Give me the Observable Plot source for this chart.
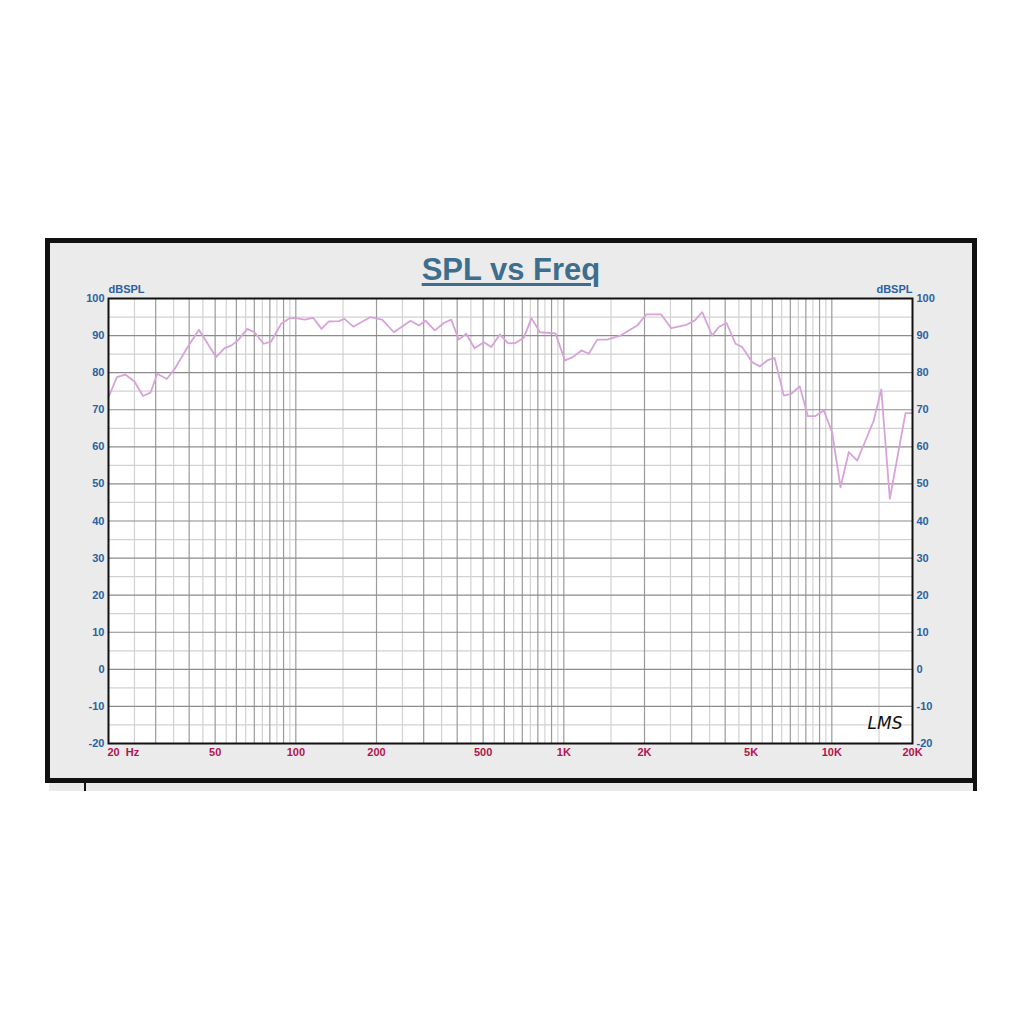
<!DOCTYPE html>
<html>
<head>
<meta charset="utf-8">
<script src="https://cdn.jsdelivr.net/npm/d3@7"></script>
<script src="https://cdn.jsdelivr.net/npm/@observablehq/plot@0.6"></script>
<style>
  html, body { margin: 0; padding: 0; background: #ffffff; }
  body { width: 1024px; height: 1024px; position: relative; overflow: hidden; font-family: "Liberation Sans", Arial, sans-serif; }
  #frame { position: absolute; left: 45px; top: 238px; width: 932px; height: 545px; box-sizing: border-box;
           border: 5px solid #111; background: #ebebeb; }
  #title { position: absolute; left: 0; right: 0; top: 9px; text-align: center; font-weight: bold; font-size: 31px;
           color: #3d6e8d; text-decoration: underline; text-decoration-thickness: 3px; text-underline-offset: 3px; }
  #chart { position: absolute; left: 0; top: 0; }
  #strip { position: absolute; left: 49px; top: 783px; width: 928px; height: 8px; background: #ebebeb;
           border-right: 4px solid #111; box-sizing: border-box; }
  #strip .tick { position: absolute; left: 35px; top: 0; width: 2px; height: 8px; background: #111; }
</style>
</head>
<body>
<div id="frame">
  <div id="title">SPL vs Freq</div>
  <div id="chart"></div>
</div>
<div id="strip"><div class="tick"></div></div>
<script>
// Measured response (frequency in Hz, level in dB SPL)
const freqs = [20, 21.5, 23.1, 25.0, 26.9, 28.7, 30.4, 33.0, 35.3, 39.5, 43.5, 50.4, 54.2, 57.4, 60.8, 65.9, 70.1, 75.9, 80.9, 88.2, 94.7, 100.3, 107.7,
  116.1, 124.7, 132.8, 144.7, 151.9, 163.8, 190.0, 210.0, 232.1, 268, 287.7, 304.7, 330.1, 356.5, 380.0, 405.6, 432.3, 464.3, 503, 536, 577,
  620, 660, 709, 757, 814, 931, 1009, 1080, 1164, 1240, 1332, 1451, 1627, 1879, 2029, 2309, 2516, 2869, 3082, 3284,
  3578, 3786, 4045, 4372, 4630, 5045, 5386, 5741, 6112, 6620, 7056, 7593, 8135, 8690, 9334, 10030, 10774, 11570, 12440, 13360, 14340, 15290, 16460, 18830, 20000];
const spl = [73.4, 78.8, 79.5, 77.6, 73.7, 74.6, 79.7, 78.3, 81.0, 86.9, 91.6, 84.2, 86.6, 87.3, 88.7, 91.8, 90.9, 87.8, 88.4, 93.2, 94.7, 94.7, 94.3,
  94.8, 91.8, 93.8, 93.9, 94.5, 92.4, 95.0, 94.3, 90.9, 94.0, 92.7, 94.0, 91.4, 93.4, 94.3, 88.9, 90.5, 86.6, 88.2, 86.9, 90.3,
  87.9, 88.0, 89.4, 94.7, 90.9, 90.6, 83.3, 84.2, 86.0, 85.1, 88.9, 88.9, 90.0, 92.7, 95.7, 95.7, 92.0, 92.9, 94.1, 96.3,
  90.0, 92.3, 93.4, 87.8, 86.9, 82.8, 81.7, 83.3, 84.0, 73.8, 74.3, 76.3, 68.3, 68.3, 69.8, 63.9, 49.1, 58.6, 56.3, 61.7, 67.1, 75.5, 46.0, 69.1, 69.1];

// Axis ticks and labels
const yTicks = [-20, -10, 0, 10, 20, 30, 40, 50, 60, 70, 80, 90, 100];
const yMinorTicks = [-15, -5, 5, 15, 25, 35, 45, 55, 65, 75, 85, 95];
const xTickValues = [20, 50, 100, 200, 500, 1000, 2000, 5000, 10000, 20000];
const xTickLabels = ["20\u00a0\u00a0Hz", "50", "100", "200", "500", "1K", "2K", "5K", "10K", "20K"];
// Log grid: multiples of each decade (major) and half-steps (minor)
const xMajorGrid = [30, 40, 50, 60, 70, 80, 90, 100, 200, 300, 400, 500, 600, 700, 800, 900, 1000,
  2000, 3000, 4000, 5000, 6000, 7000, 8000, 9000, 10000];
const xMinorGrid = [25, 35, 45, 55, 65, 75, 85, 95, 150, 250, 350, 450, 550, 650, 750, 850, 950,
  1500, 2500, 3500, 4500, 5500, 6500, 7500, 8500, 9500, 15000];

const data = freqs.map((f, i) => ({f, db: spl[i]}));
const xLabelRows = xTickValues.map((v, i) => ({v, label: xTickLabels[i]}));

const blue = "#2a62a2";
const red = "#b3134f";

const chart = Plot.plot({
  width: 922,
  height: 535,
  marginLeft: 58,
  marginRight: 60,
  marginTop: 55,
  marginBottom: 35,
  style: {background: "transparent", fontFamily: "Liberation Sans, Arial, sans-serif", fontSize: "11px", fontWeight: "bold", overflow: "visible"},
  x: {type: "log", domain: [20, 20000], axis: null},
  y: {domain: [-20, 100], axis: null},
  marks: [
    Plot.frame({fill: "white"}),
    Plot.ruleX(xMinorGrid, {stroke: "#d2d2d2", strokeWidth: 1.2}),
    Plot.ruleY(yMinorTicks, {stroke: "#d2d2d2", strokeWidth: 1.2}),
    Plot.ruleX(xMajorGrid, {stroke: "#9a9a9a", strokeWidth: 1.2}),
    Plot.ruleY(yTicks.slice(1, -1), {stroke: "#8c8c8c", strokeWidth: 1.2}),
    Plot.line(data, {x: "f", y: "db", stroke: "#d7a3d9", strokeWidth: 1.8, strokeLinejoin: "round"}),
    Plot.frame({stroke: "#111", strokeWidth: 2}),
    Plot.axisY({anchor: "left", ticks: yTicks, tickSize: 0, tickPadding: 4, label: null, color: blue, tickFormat: d => String(d)}),
    Plot.axisY({anchor: "right", ticks: yTicks, tickSize: 0, tickPadding: 4, label: null, color: blue, tickFormat: d => String(d)}),
    Plot.text(xLabelRows.slice(1), {x: "v", text: "label", frameAnchor: "bottom", dy: 9, lineAnchor: "middle", textAnchor: "middle", fill: red}),
    Plot.text(xLabelRows.slice(0, 1), {x: "v", text: "label", frameAnchor: "bottom", dy: 9, lineAnchor: "middle", textAnchor: "start", dx: -1, fill: red}),
    Plot.text(["dBSPL"], {frameAnchor: "top-left", dy: -9, lineAnchor: "middle", textAnchor: "start", fill: blue}),
    Plot.text(["dBSPL"], {frameAnchor: "top-right", dy: -9, lineAnchor: "middle", textAnchor: "end", fill: blue}),
    Plot.text(["LMS"], {frameAnchor: "bottom-right", dx: -10, dy: -15, textAnchor: "end", fontSize: 17, fontWeight: "normal",
      fontStyle: "italic", fontFamily: "DejaVu Sans", fill: "#111"})
  ]
});
document.getElementById("chart").appendChild(chart);
</script>
</body>
</html>
